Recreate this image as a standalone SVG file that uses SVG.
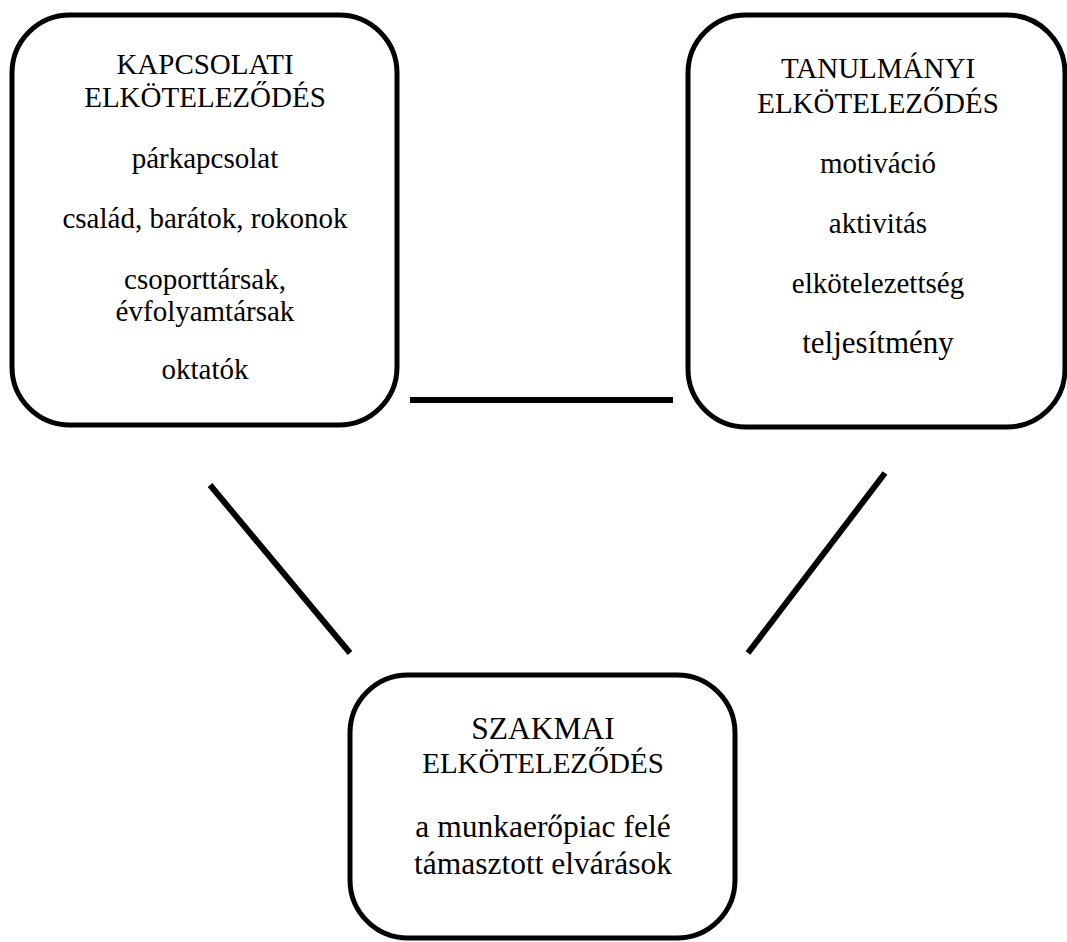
<svg xmlns="http://www.w3.org/2000/svg" width="1067" height="942" viewBox="0 0 1067 942">
<style>
.box{fill:#fff;stroke:#000;stroke-width:5}
.t{font-family:'Liberation Serif',serif;font-size:29px;fill:#000;text-anchor:middle}
.b{font-size:31.5px}
.con{stroke:#000;stroke-width:6;fill:none}
</style>
<rect width="1067" height="942" fill="#fff"/>
<g id="connectors">
<line class="con" x1="410" y1="400" x2="673" y2="400"/>
<line class="con" x1="210" y1="485" x2="350" y2="653"/>
<line class="con" x1="885" y1="473" x2="748" y2="653"/>
</g>
<g id="kapcsolati">
<rect class="box" x="12" y="15" width="385" height="410" rx="58" ry="58"/>
<text class="t" x="205" y="74">KAPCSOLATI</text>
<text class="t" x="205" y="107">ELKÖTELEZŐDÉS</text>
<text class="t" x="205" y="168">párkapcsolat</text>
<text class="t" x="205" y="228">család, barátok, rokonok</text>
<text class="t" x="205" y="289">csoporttársak,</text>
<text class="t" x="205" y="321">évfolyamtársak</text>
<text class="t" x="205" y="379">oktatók</text>
</g>
<g id="tanulmanyi">
<rect class="box" x="688" y="15" width="377" height="412" rx="58" ry="58"/>
<text class="t" x="878" y="78">TANULMÁNYI</text>
<text class="t" x="878" y="113">ELKÖTELEZŐDÉS</text>
<text class="t" x="878" y="173">motiváció</text>
<text class="t" x="878" y="233">aktivitás</text>
<text class="t" x="878" y="293">elkötelezettség</text>
<text class="t" x="878" y="353" style="font-size:31px">teljesítmény</text>
</g>
<g id="szakmai">
<rect class="box" x="350" y="675" width="385" height="263" rx="58" ry="58"/>
<text class="t b" x="543" y="739">SZAKMAI</text>
<text class="t" x="543" y="773">ELKÖTELEZŐDÉS</text>
<text class="t b" x="543" y="837">a munkaerőpiac felé</text>
<text class="t b" x="543" y="874">támasztott elvárások</text>
</g>
</svg>
